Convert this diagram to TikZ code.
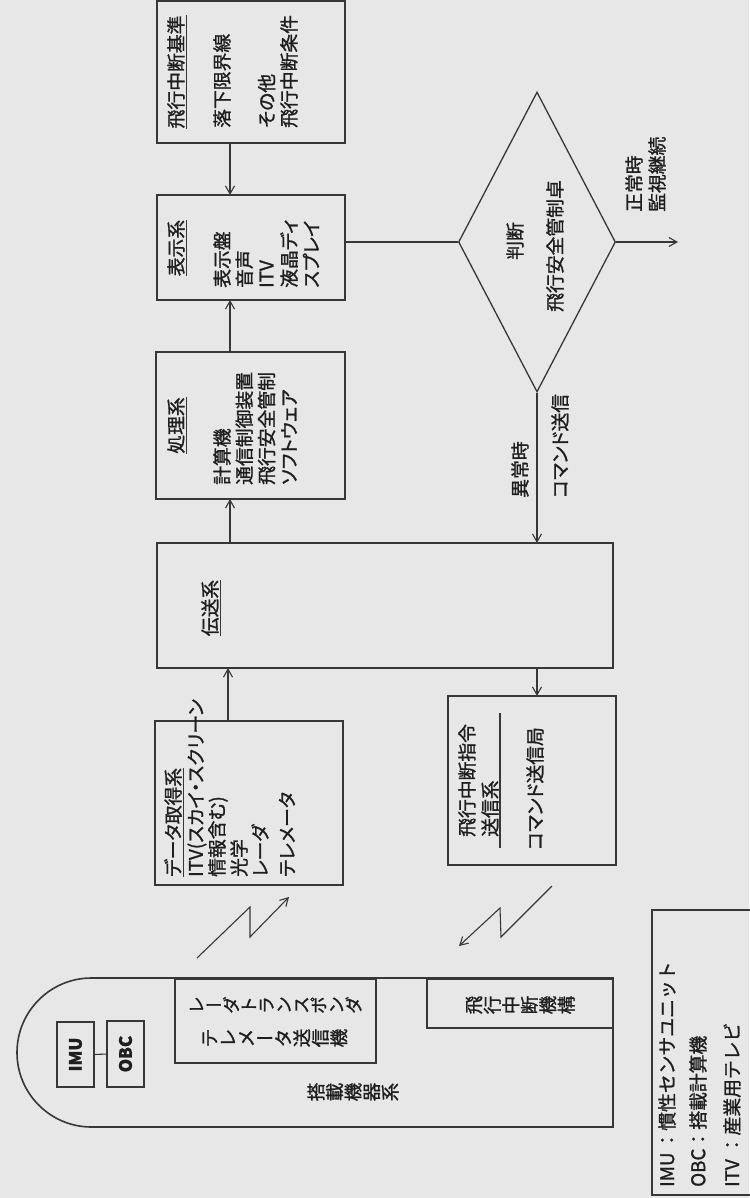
\documentclass[tikz,border=0pt]{standalone}
\usepackage{fontspec}
\usepackage{graphicx}
\usetikzlibrary{arrows.meta,shapes.geometric,shapes.misc}
\newfontfamily\jp{Noto Sans CJK JP}[RawFeature=+palt,FakeBold=1.2]
\newfontfamily\jpv{Noto Sans CJK JP}[FakeBold=1.2]
\definecolor{bg}{RGB}{231,231,231}
\definecolor{ln}{RGB}{55,55,55}
\definecolor{tx}{RGB}{30,30,30}
\ExplSyntaxOn
\NewDocumentCommand\tate{m}{
  \tl_map_inline:nn {#1}
   { \str_if_eq:nnTF {##1} {ー}
      { \makebox[1em][c]{ー} }
      { \rotatebox[origin=c]{90}{\makebox[1em][c]{\rule[-.12em]{0pt}{1em}##1}} } }
}
\ExplSyntaxOff
\begin{document}
\begin{tikzpicture}[x=1pt,y=-1pt,
  box/.style={draw=ln, line width=1.7pt, rectangle, inner sep=0pt, outer sep=0pt},
  arr/.style={draw=ln, line width=1.1pt, -{Straight Barb[length=8pt,width=9pt]}},
  plain/.style={draw=ln, line width=1.1pt},
  vt/.style={rotate=90, anchor=west, inner sep=0pt, text=tx, font=\jp\fontsize{18.8}{20}\selectfont},
  vc/.style={rotate=90, anchor=center, inner sep=0pt, text=tx, font=\jp\fontsize{18.8}{20}\selectfont},
  ht/.style={anchor=center, inner sep=0pt, text=tx, font=\jpv\fontsize{18.5}{20}\selectfont},
  lg/.style={rotate=90, anchor=west, inner sep=0pt, text=tx, font=\jpv\fontsize{18.8}{20}\selectfont},
  uline/.style={draw=ln, line width=1.1pt}]
\fill[bg] (0,0) rectangle (749,1198);
\useasboundingbox (0,0) rectangle (749,1198);

% boxes
\node[box, minimum width=188pt, minimum height=142pt] (A) at (251,72) {};
\node[box, minimum width=188pt, minimum height=105pt] (B) at (251,247.5) {};
\node[box, minimum width=189pt, minimum height=147pt] (C) at (250.5,425.5) {};
\node[box, minimum width=456pt, minimum height=125pt] (D) at (385,605.5) {};
\node[box, minimum width=168pt, minimum height=169pt] (E) at (532,780.5) {};
\node[box, minimum width=188pt, minimum height=164pt] (F) at (249,803) {};
\node[draw=ln, line width=1.3pt, diamond, aspect=0.52, minimum width=157pt, minimum height=300pt, inner sep=0pt] (dia) at (537,242) {};
\node[draw=ln, line width=1.6pt, rounded rectangle, rounded rectangle right arc=none, minimum width=596pt, minimum height=149pt, inner sep=0pt] (cap) at (315,1052.5) {};
\node[box, minimum width=37pt, minimum height=65pt] (imu) at (75.5,1054.5) {};
\node[box, minimum width=37pt, minimum height=66pt] (obc) at (125.5,1054) {};
\node[box, minimum width=201pt, minimum height=84pt] (R) at (275.5,1021) {};
\node[box, minimum width=186pt, minimum height=49pt] (K) at (520,1003.5) {};
\node[box, minimum width=112pt, minimum height=285pt] (leg) at (708,1052.5) {};

% texts box A
\node[vc] (tA1) at (176,72) {飛行中断基準};
\node[vt] (tA2) at (222,128) {落下限界線};
\node[vt] (tA3) at (266.6,128) {その他};
\node[vt] (tA4) at (289,128) {飛行中断条件};
% box B
\node[vc] (tB1) at (176,248) {表示系};
\node[vt] (tB2) at (222,288) {表示盤};
\node[vt] (tB3) at (244.3,288) {音声};
\node[vt] (tB4) at (266.6,288) {ITV};
\node[vt] (tB5) at (289,288) {液晶ディ};
\node[vt] (tB6) at (311,288) {スプレイ};
% box C
\node[vc] (tC1) at (176,425.5) {処理系};
\node[vt] (tC2) at (222,485) {計算機};
\node[vt] (tC3) at (244.3,485) {通信制御装置};
\node[vt] (tC4) at (266.6,485) {飛行安全管制};
\node[vt] (tC5) at (289,485) {ソフトウェア};
% box D
\node[vc] (tD1) at (210,608) {伝送系};
% box F
\node[vt] (tF1) at (173,877) {データ取得系};
\node[vt] (tF2) at (197,877) {ITV(スカイ・スクリーン};
\node[vt] (tF3) at (218,877) {情報含む)};
\node[vt] (tF4) at (239,877) {光学};
\node[vt] (tF5) at (260,877) {レーダ};
\node[vt] (tF6) at (287,877) {テレメータ};
% box E
\node[vt] (tE1) at (467,837) {飛行中断指令};
\node[vt] (tE2) at (490,837) {送信系};
\node[vt] (tE3) at (535,850) {コマンド送信局};
% diamond
\node[vc] (tJ1) at (515,241) {判断};
\node[vc] (tJ2) at (555,246) {飛行安全管制卓};
\node[vt] (tN1) at (520,498) {異常時};
\node[vt] (tN2) at (560,498) {コマンド送信};
\node[vt] (tO1) at (634,212) {正常時};
\node[vt] (tO2) at (657,212) {監視継続};
% capsule
\node[ht, font=\jpv\fontsize{17.5}{20}\selectfont] (tR1) at (275,1005) {\tate{レーダトランスポンダ}};
\node[ht] (tR2) at (274,1038) {\tate{テレメータ送信機}};
\node[ht] (tS) at (353,1092) {\tate{搭載機器系}};
\node[ht] (tK) at (520,1005) {\tate{飛行中断機構}};
\node[vc, font=\jpv\bfseries\fontsize{17}{20}\selectfont] (tI) at (75.5,1054.5) {IMU};
\node[vc, font=\jpv\bfseries\fontsize{17}{20}\selectfont] (tO) at (125.5,1054) {OBC};
% legend
\node[lg] (tL1) at (667,1187) {IMU\hspace{3pt}：慣性センサユニット};
\node[lg] (tL2) at (698,1187) {OBC：搭載計算機};
\node[lg] (tL3) at (732,1187) {ITV\hspace{5pt}：産業用テレビ};

% underlines
\draw[uline] ([xshift=1.5pt]tA1.south west) -- ([xshift=1.5pt]tA1.south east);
\draw[uline] ([xshift=1.5pt]tB1.south west) -- ([xshift=1.5pt]tB1.south east);
\draw[uline] ([xshift=1.5pt]tC1.south west) -- ([xshift=1.5pt]tC1.south east);
\draw[uline] ([xshift=1.5pt]tD1.south west) -- ([xshift=1.5pt]tD1.south east);
\draw[uline] ([xshift=1.5pt]tF1.south west) -- ([xshift=1.5pt]tF1.south east);
\draw[uline] (500,713) -- (500,848);

% connectors
\draw[arr] ([xshift=-21pt]A.south) -- ([xshift=-21pt]B.north);
\draw[arr] ([xshift=-20.5pt]C.north) -- ([xshift=-21pt]B.south);
\draw[arr] ([xshift=-155pt]D.north) -- ([xshift=-20.5pt]C.south);
\draw[arr] ([xshift=-21pt]F.north) -- ([xshift=-157pt]D.south);
\draw[plain] (dia.west -| B.east) -- (dia.west);
\coordinate (ok) at (678,242);
\draw[arr] (dia.east) -- (ok);
\draw[arr] (dia.south) -- (D.north -| dia.south);
\draw[arr] (D.south -| dia.south) -- (E.north -| dia.south);
\draw[plain] (imu.east) -- (obc.west);
% lightning
\coordinate (z1s) at (197,958);
\coordinate (z1e) at (289,897);
\draw[arr] (z1s) -- (250,907) -- (250,937) -- (z1e);
\coordinate (z2s) at (552,886);
\coordinate (z2e) at (459,946);
\draw[arr] (z2s) -- (501,937) -- (500,908) -- (z2e);
\end{tikzpicture}
\end{document}
